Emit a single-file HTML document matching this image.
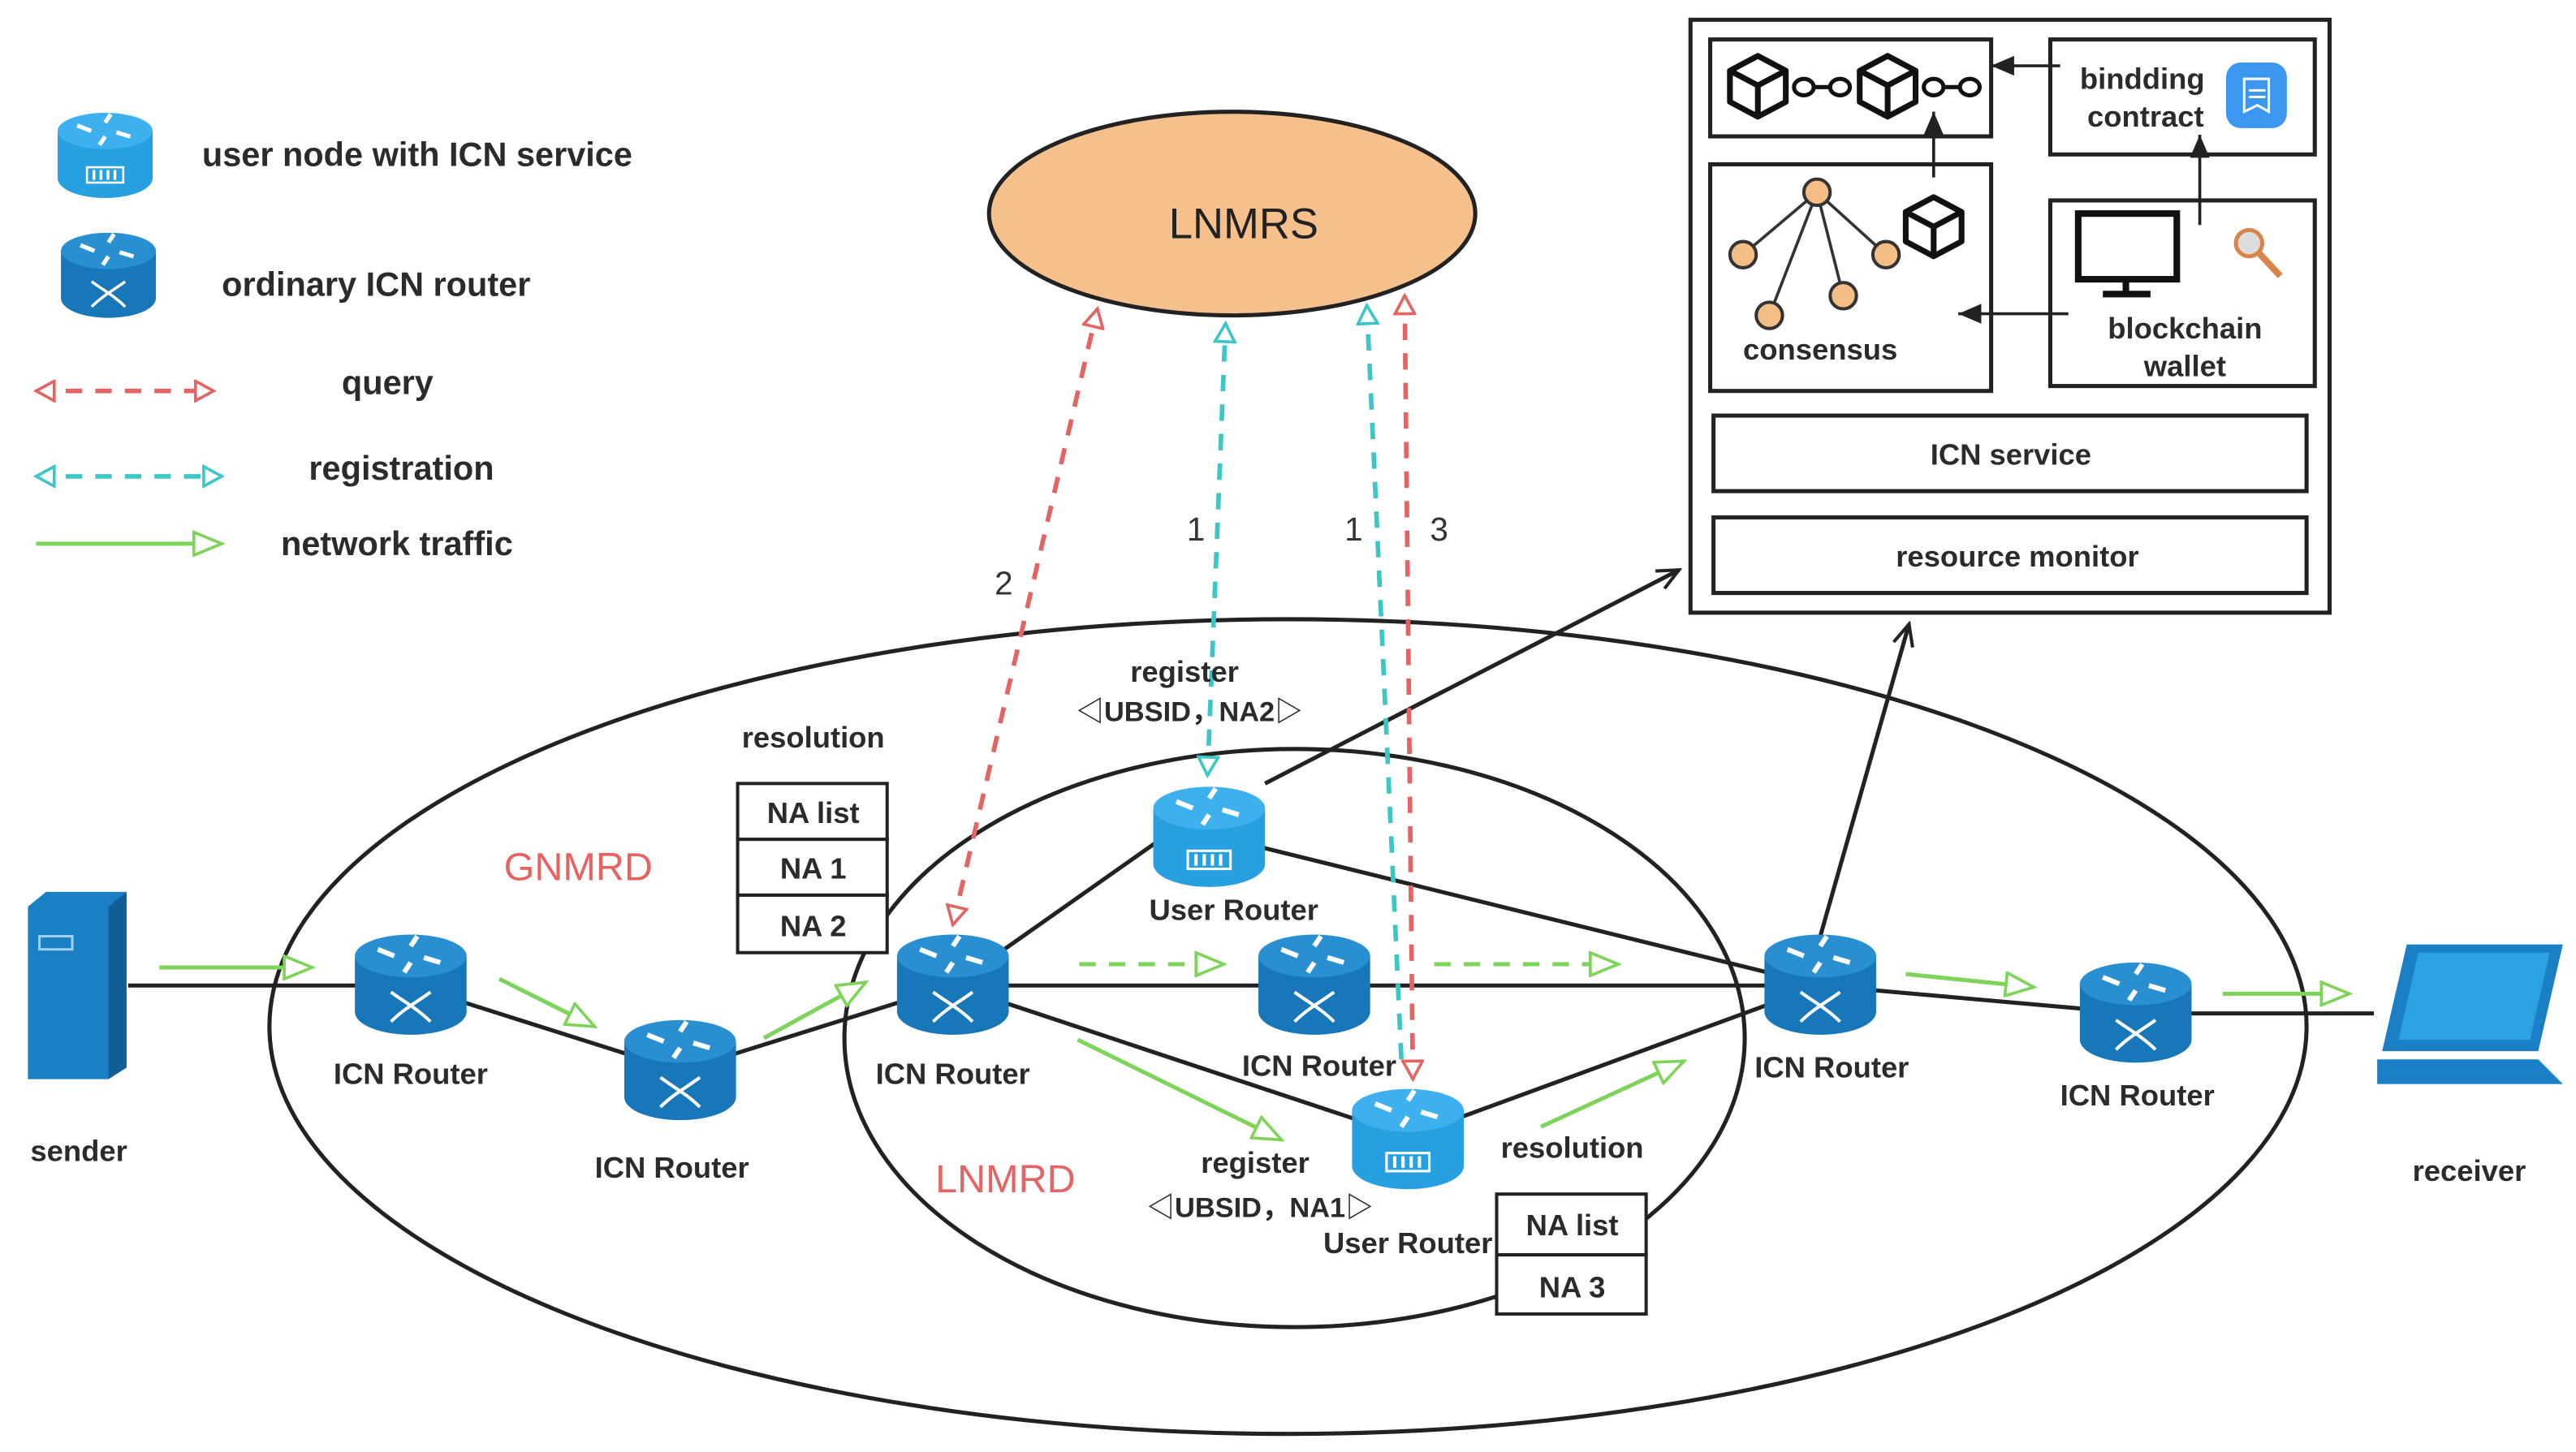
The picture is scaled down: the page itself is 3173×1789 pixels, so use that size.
<!DOCTYPE html>
<html><head><meta charset="utf-8"><style>
html,body{margin:0;padding:0;background:#fff;}
svg{display:block;}
text{font-family:"Liberation Sans","Noto Sans CJK SC",sans-serif;}
.b{font-weight:bold;font-size:18px;fill:#2b2b2b;}
</style></head><body>
<svg width="3173" height="1789" viewBox="0 0 1568 884" xmlns="http://www.w3.org/2000/svg">
<defs>
<marker id="ar" markerWidth="14" markerHeight="14" refX="12" refY="7" orient="auto-start-reverse" markerUnits="userSpaceOnUse"><path d="M1,1 L12,7 L1,13 Z" fill="#fff" stroke="#e46464" stroke-width="1.8"/></marker>
<marker id="ac" markerWidth="14" markerHeight="14" refX="12" refY="7" orient="auto-start-reverse" markerUnits="userSpaceOnUse"><path d="M1,1 L12,7 L1,13 Z" fill="#fff" stroke="#3cc6c6" stroke-width="1.8"/></marker>
<marker id="ag" markerWidth="20" markerHeight="16" refX="18" refY="8" orient="auto" markerUnits="userSpaceOnUse"><path d="M1,1 L18,8 L1,15 Z" fill="#fff" stroke="#7ed35a" stroke-width="1.8"/></marker>
<marker id="ak" markerWidth="16" markerHeight="16" refX="14" refY="8" orient="auto" markerUnits="userSpaceOnUse"><path d="M1,2 L14,8 L1,14" fill="none" stroke="#222" stroke-width="2"/></marker>
<marker id="akf" markerWidth="16" markerHeight="14" refX="14" refY="7" orient="auto" markerUnits="userSpaceOnUse"><path d="M0,1 L14,7 L0,13 Z" fill="#222"/></marker>
<g id="rt">
<path d="M-34,-18 L-34,16 A34,14 0 0 0 34,16 L34,-18 Z" fill="#1877b8"/>
<ellipse cx="0" cy="-18" rx="34" ry="13" fill="#2a8fd0"/>
<path d="M-20,-22 l10,4 M18,-14 l-10,-3 M4,-30 l-4,6 M-4,-8 l4,-6" stroke="#fff" stroke-width="3"/>
<path d="M-12,4 C-4,10 4,14 12,22 M12,4 C4,10 -4,14 -12,22" stroke="#fff" stroke-width="2" fill="none"/>
</g>
<g id="ur">
<path d="M-34,-18 L-34,16 A34,14 0 0 0 34,16 L34,-18 Z" fill="#27a0e2"/>
<ellipse cx="0" cy="-18" rx="34" ry="13" fill="#3fb0ee"/>
<path d="M-20,-22 l10,4 M18,-14 l-10,-3 M4,-30 l-4,6 M-4,-8 l4,-6" stroke="#fff" stroke-width="3"/>
<rect x="-13" y="8" width="26" height="11" fill="none" stroke="#fff" stroke-width="1.5"/>
<path d="M-8,10 v7 M-3,10 v7 M2,10 v7 M7,10 v7" stroke="#fff" stroke-width="2"/>
</g>
</defs>

<!-- legend -->
<use href="#ur" transform="translate(64,95) scale(0.85)"/>
<text class="b" x="123" y="101" style="font-size:20.5px">user node with ICN service</text>
<use href="#rt" transform="translate(66,168) scale(0.85)"/>
<text class="b" x="135" y="180" style="font-size:20.5px">ordinary ICN router</text>
<line x1="22" y1="238" x2="130" y2="238" stroke="#e46464" stroke-width="2.8" stroke-dasharray="10,8" marker-start="url(#ar)" marker-end="url(#ar)"/>
<text class="b" x="208" y="240" style="font-size:20.5px">query</text>
<line x1="22" y1="290" x2="135" y2="290" stroke="#3cc6c6" stroke-width="2.8" stroke-dasharray="10,8" marker-start="url(#ac)" marker-end="url(#ac)"/>
<text class="b" x="188" y="292" style="font-size:20.5px">registration</text>
<line x1="22" y1="331" x2="135" y2="331" stroke="#7ed35a" stroke-width="2.5" marker-end="url(#ag)"/>
<text class="b" x="171" y="338" style="font-size:20.5px">network traffic</text>

<!-- LNMRS -->
<ellipse cx="750" cy="130" rx="148" ry="62" fill="#f5c08c" stroke="#222" stroke-width="2.5"/>
<text x="757" y="145" font-size="26" text-anchor="middle" fill="#222">LNMRS</text>

<!-- ellipses -->
<ellipse cx="784" cy="625" rx="620" ry="248" fill="none" stroke="#222" stroke-width="2.5"/>
<ellipse cx="788" cy="632" rx="274" ry="176" fill="none" stroke="#222" stroke-width="2.5"/>
<text x="352" y="536" font-size="24" fill="#e46464" text-anchor="middle">GNMRD</text>
<text x="612" y="726" font-size="24" fill="#e46464" text-anchor="middle">LNMRD</text>

<!-- black links -->
<g stroke="#222" stroke-width="2.5" fill="none">
<line x1="78" y1="600" x2="250" y2="600"/>
<line x1="250" y1="600" x2="414" y2="652"/>
<line x1="414" y1="652" x2="580" y2="600"/>
<line x1="580" y1="600" x2="705" y2="512"/>
<line x1="580" y1="600" x2="1108" y2="600"/>
<line x1="580" y1="600" x2="857" y2="692"/>
<line x1="736" y1="508" x2="1108" y2="600"/>
<line x1="857" y1="692" x2="1108" y2="600"/>
<line x1="1108" y1="600" x2="1300" y2="617"/>
<line x1="1300" y1="617" x2="1445" y2="617"/>
<line x1="770" y1="477" x2="1022" y2="347" marker-end="url(#ak)"/>
<line x1="1108" y1="570" x2="1162" y2="380" marker-end="url(#ak)"/>
</g>

<!-- dashed query/registration -->
<line x1="580" y1="563" x2="668" y2="188" stroke="#e46464" stroke-width="2.8" stroke-dasharray="10,8" marker-start="url(#ar)" marker-end="url(#ar)"/>
<line x1="735" y1="472" x2="746" y2="197" stroke="#3cc6c6" stroke-width="2.8" stroke-dasharray="10,8" marker-start="url(#ac)" marker-end="url(#ac)"/>
<line x1="853" y1="645" x2="832" y2="186" stroke="#3cc6c6" stroke-width="2.8" stroke-dasharray="10,8" marker-end="url(#ac)"/>
<line x1="860" y1="657" x2="855" y2="180" stroke="#e46464" stroke-width="2.8" stroke-dasharray="10,8" marker-start="url(#ar)" marker-end="url(#ar)"/>
<rect x="600" y="342" width="22" height="24" fill="#fff"/>
<text x="611" y="362" font-size="20" text-anchor="middle" fill="#333">2</text>
<rect x="718" y="310" width="20" height="24" fill="#fff"/>
<text x="728" y="329" font-size="20" text-anchor="middle" fill="#333">1</text>
<rect x="814" y="310" width="20" height="24" fill="#fff"/>
<text x="824" y="329" font-size="20" text-anchor="middle" fill="#333">1</text>
<rect x="866" y="310" width="20" height="24" fill="#fff"/>
<text x="876" y="329" font-size="20" text-anchor="middle" fill="#333">3</text>

<!-- green traffic -->
<g stroke="#7ed35a" stroke-width="2.5" fill="none">
<line x1="97" y1="589" x2="190" y2="589" marker-end="url(#ag)"/>
<line x1="304" y1="596" x2="362" y2="625" marker-end="url(#ag)"/>
<line x1="465" y1="632" x2="527" y2="598" marker-end="url(#ag)"/>
<line x1="657" y1="587" x2="745" y2="587" stroke-dasharray="10,8" marker-end="url(#ag)"/>
<line x1="873" y1="587" x2="985" y2="587" stroke-dasharray="10,8" marker-end="url(#ag)"/>
<line x1="656" y1="633" x2="780" y2="694" marker-end="url(#ag)"/>
<line x1="938" y1="686" x2="1025" y2="646" marker-end="url(#ag)"/>
<line x1="1160" y1="593" x2="1238" y2="601" marker-end="url(#ag)"/>
<line x1="1353" y1="605" x2="1430" y2="605" marker-end="url(#ag)"/>
</g>

<!-- routers -->
<use href="#rt" transform="translate(250,600)"/>
<use href="#rt" transform="translate(414,652)"/>
<use href="#rt" transform="translate(580,600)"/>
<use href="#rt" transform="translate(800,600)"/>
<use href="#rt" transform="translate(1108,600)"/>
<use href="#rt" transform="translate(1300,617)"/>
<use href="#ur" transform="translate(736,510)"/>
<use href="#ur" transform="translate(857,694)"/>
<text class="b" x="250" y="660" text-anchor="middle">ICN Router</text>
<text class="b" x="409" y="717" text-anchor="middle">ICN Router</text>
<text class="b" x="580" y="660" text-anchor="middle">ICN Router</text>
<text class="b" x="803" y="655" text-anchor="middle">ICN Router</text>
<text class="b" x="1115" y="656" text-anchor="middle">ICN Router</text>
<text class="b" x="1301" y="673" text-anchor="middle">ICN Router</text>
<text class="b" x="751" y="560" text-anchor="middle">User Router</text>
<text class="b" x="857" y="763" text-anchor="middle">User Router</text>

<!-- sender -->
<path d="M17,552 L28,543 L77,543 L77,650 L66,657 L17,657 Z" fill="#1a7fc4"/>
<path d="M66,552 L77,543 L77,650 L66,657 Z" fill="#115e96"/>
<rect x="24" y="570" width="20" height="8" fill="none" stroke="#9fd0ef" stroke-width="1.5"/>
<text class="b" x="48" y="707" text-anchor="middle">sender</text>
<!-- laptop -->
<path d="M1465,575 L1560,575 L1545,640 L1450,640 Z" fill="#1a7fc4"/>
<path d="M1472,580 L1552,580 L1540,633 L1460,633 Z" fill="#2aa2e4"/>
<path d="M1447,645 L1545,645 L1560,660 L1447,660 Z" fill="#1a7fc4"/>
<text class="b" x="1503" y="719" text-anchor="middle">receiver</text>

<!-- register / resolution labels -->
<text class="b" x="721" y="415" text-anchor="middle">register</text>
<text class="b" x="724" y="439" text-anchor="middle" style="font-size:17px">◁UBSID，NA2▷</text>
<text class="b" x="764" y="714" text-anchor="middle">register</text>
<text class="b" x="767" y="741" text-anchor="middle" style="font-size:17px">◁UBSID，NA1▷</text>
<text class="b" x="495" y="455" text-anchor="middle">resolution</text>
<text class="b" x="957" y="705" text-anchor="middle">resolution</text>
<g fill="#fff" stroke="#222" stroke-width="2">
<rect x="449" y="477" width="91" height="34"/>
<rect x="449" y="511" width="91" height="34"/>
<rect x="449" y="545" width="91" height="35"/>
<rect x="911" y="727" width="91" height="37"/>
<rect x="911" y="764" width="91" height="36"/>
</g>
<text class="b" x="495" y="501" text-anchor="middle">NA list</text>
<text class="b" x="495" y="535" text-anchor="middle">NA 1</text>
<text class="b" x="495" y="570" text-anchor="middle">NA 2</text>
<text class="b" x="957" y="752" text-anchor="middle">NA list</text>
<text class="b" x="957" y="790" text-anchor="middle">NA 3</text>

<!-- right box -->
<g fill="none" stroke="#222" stroke-width="2.5">
<rect x="1029" y="12" width="389" height="361"/>
<rect x="1041" y="24" width="171" height="59"/>
<rect x="1248" y="24" width="161" height="70"/>
<rect x="1041" y="100" width="171" height="138"/>
<rect x="1248" y="122" width="161" height="113"/>
<rect x="1043" y="253" width="361" height="46"/>
<rect x="1043" y="315" width="361" height="46"/>
</g>
<g stroke="#222" stroke-width="1.8">
<line x1="1254" y1="40" x2="1212" y2="40" marker-end="url(#akf)"/>
<line x1="1177" y1="108" x2="1177" y2="68" marker-end="url(#akf)"/>
<line x1="1339" y1="137" x2="1339" y2="82" marker-end="url(#akf)"/>
<line x1="1259" y1="191" x2="1192" y2="191" marker-end="url(#akf)"/>
</g>
<!-- cubes -->
<g fill="none" stroke="#111" stroke-width="3.5" stroke-linejoin="round">
<path d="M1070,34 L1087,43 L1087,62 L1070,71 L1053,62 L1053,43 Z M1053,43 L1070,52 L1087,43 M1070,52 L1070,71"/>
<path d="M1149,34 L1166,43 L1166,62 L1149,71 L1132,62 L1132,43 Z M1132,43 L1149,52 L1166,43 M1149,52 L1149,71"/>
<path d="M1177,120 L1194,129 L1194,147 L1177,156 L1160,147 L1160,129 Z M1160,129 L1177,138 L1194,129 M1177,138 L1177,156"/>
</g>
<g fill="none" stroke="#111" stroke-width="2.5">
<ellipse cx="1098" cy="53" rx="6" ry="5"/><ellipse cx="1120" cy="53" rx="6" ry="5"/><line x1="1104" y1="53" x2="1114" y2="53"/>
<ellipse cx="1177" cy="53" rx="6" ry="5"/><ellipse cx="1199" cy="53" rx="6" ry="5"/><line x1="1183" y1="53" x2="1193" y2="53"/>
</g>
<g stroke="#333" stroke-width="1.8">
<line x1="1106" y1="117" x2="1061" y2="155"/><line x1="1106" y1="117" x2="1077" y2="192"/>
<line x1="1106" y1="117" x2="1122" y2="180"/><line x1="1106" y1="117" x2="1148" y2="155"/>
</g>
<g fill="#f3bd85" stroke="#333" stroke-width="2">
<circle cx="1106" cy="117" r="8"/><circle cx="1061" cy="155" r="8"/><circle cx="1148" cy="155" r="8"/>
<circle cx="1122" cy="180" r="8"/><circle cx="1077" cy="192" r="8"/>
</g>
<text class="b" x="1108" y="219" text-anchor="middle">consensus</text>
<text class="b" x="1304" y="54" text-anchor="middle">bindding</text>
<text class="b" x="1306" y="77" text-anchor="middle">contract</text>
<rect x="1355" y="38" width="37" height="40" rx="9" fill="#3b97ef"/>
<path d="M1366,48 h15 v20 l-7,-4 l-8,4 Z M1369,55 h10 M1369,59 h10" fill="none" stroke="#fff" stroke-width="1.5"/>
<rect x="1265" y="130" width="60" height="40" fill="none" stroke="#111" stroke-width="4"/>
<line x1="1294" y1="170" x2="1294" y2="178" stroke="#111" stroke-width="4"/>
<line x1="1280" y1="179" x2="1309" y2="179" stroke="#111" stroke-width="4"/>
<circle cx="1369" cy="148" r="8" fill="#ddd" stroke="#d9844a" stroke-width="2.5"/>
<line x1="1375" y1="154" x2="1388" y2="168" stroke="#d9844a" stroke-width="4"/>
<text class="b" x="1330" y="206" text-anchor="middle">blockchain</text>
<text class="b" x="1330" y="229" text-anchor="middle">wallet</text>
<text class="b" x="1224" y="283" text-anchor="middle">ICN service</text>
<text class="b" x="1228" y="345" text-anchor="middle">resource monitor</text>
</svg>
</body></html>
